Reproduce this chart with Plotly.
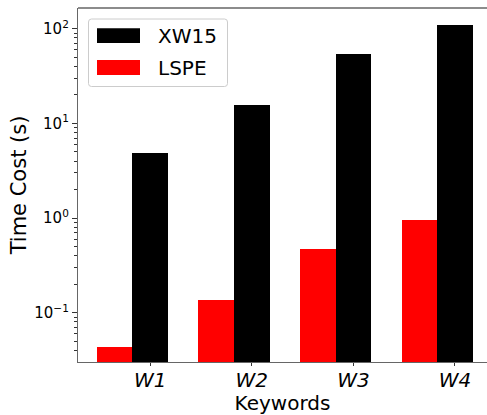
import plotly.graph_objects as go

# Keyword sets and measured runtimes (seconds)
keywords = ["W1", "W2", "W3", "W4"]
xw15_time = [4.9, 15.5, 54.0, 109.0]
lspe_time = [0.0437, 0.136, 0.467, 0.946]
series_names = ["XW15", "LSPE"]
series_colors = ["black", "red"]

y_tick_exps = [-1, 0, 1, 2]
y_tick_text = ["10<sup>\u22121</sup>", "10<sup>0</sup>", "10<sup>1</sup>", "10<sup>2</sup>"]

FONT = "DejaVu Sans"
bar_w = 0.35
idx = list(range(len(keywords)))

fig = go.Figure()
# LSPE bars sit to the left of each tick group, XW15 bars to the right
fig.add_trace(go.Bar(x=idx, y=lspe_time, width=bar_w, offset=-bar_w,
                     marker=dict(color=series_colors[1], line=dict(width=0)),
                     name=series_names[1], showlegend=False))
fig.add_trace(go.Bar(x=idx, y=xw15_time, width=bar_w, offset=0,
                     marker=dict(color=series_colors[0], line=dict(width=0)),
                     name=series_names[0], showlegend=False))

W, H = 487, 415
ml, mr, mt, mb = 78, 0, 8, 53
pw, ph = W - ml - mr, H - mt - mb


def px_x(x):
    return (x - ml) / pw


def px_y(y):
    return (H - mb - y) / ph


spine = "#666666"
shapes = [
    # top spine (right side of the frame falls outside the canvas)
    dict(type="line", xref="paper", yref="paper", x0=0, x1=1, y0=1, y1=1,
         line=dict(color=spine, width=1.3)),
]

# legend box with rounded corners
lx0, lx1, ly0, ly1, r = 88.5, 227.5, 19, 86.5, 3
path = (f"M{px_x(lx0 + r)},{px_y(ly0)} L{px_x(lx1 - r)},{px_y(ly0)} "
        f"Q{px_x(lx1)},{px_y(ly0)} {px_x(lx1)},{px_y(ly0 + r)} "
        f"L{px_x(lx1)},{px_y(ly1 - r)} Q{px_x(lx1)},{px_y(ly1)} {px_x(lx1 - r)},{px_y(ly1)} "
        f"L{px_x(lx0 + r)},{px_y(ly1)} Q{px_x(lx0)},{px_y(ly1)} {px_x(lx0)},{px_y(ly1 - r)} "
        f"L{px_x(lx0)},{px_y(ly0 + r)} Q{px_x(lx0)},{px_y(ly0)} {px_x(lx0 + r)},{px_y(ly0)} Z")
shapes.append(dict(type="path", xref="paper", yref="paper", path=path,
                   fillcolor="rgba(255,255,255,0.8)", line=dict(color="#cccccc", width=1)))

annotations = []
legend_rows = [(series_names[0], series_colors[0], 28.3, 43.0),
               (series_names[1], series_colors[1], 60.0, 75.0)]
for name, color, y0, y1 in legend_rows:
    shapes.append(dict(type="rect", xref="paper", yref="paper",
                       x0=px_x(97), x1=px_x(140), y0=px_y(y1), y1=px_y(y0),
                       fillcolor=color, line=dict(width=0)))
    annotations.append(dict(xref="paper", yref="paper", x=px_x(156), y=px_y((y0 + y1) / 2 + 0.5),
                            xanchor="left", yanchor="middle", text=name, showarrow=False,
                            font=dict(family=FONT, size=20, color="black")))

fig.update_layout(
    width=W, height=H,
    margin=dict(l=ml, r=mr, t=mt, b=mb, pad=0),
    paper_bgcolor="white", plot_bgcolor="white",
    font=dict(family=FONT, color="black"),
    shapes=shapes, annotations=annotations,
    bargap=0,
)

fig.update_xaxes(
    range=[-bar_w - 0.185, 3.49],
    tickvals=[i + bar_w / 2 for i in idx],
    ticktext=[f"<i>{k}</i>" for k in keywords],
    tickfont=dict(family=FONT, size=20, color="black"),
    ticks="outside", ticklen=3, tickwidth=1, tickcolor="#333333",
    ticklabelstandoff=-3,
    showline=True, linecolor=spine, linewidth=1.3,
    showgrid=False, zeroline=False,
    title=dict(text="Keywords", font=dict(family=FONT, size=20, color="black"), standoff=0),
)

fig.update_yaxes(
    type="log",
    range=[-1.521, 2.219],
    tickvals=[10 ** e for e in y_tick_exps],
    ticktext=y_tick_text,
    tickfont=dict(family=FONT, size=15, color="black"),
    ticks="outside", ticklen=5, tickwidth=1, tickcolor="#333333",
    minor=dict(ticks="outside", ticklen=3, tickwidth=0.8, tickcolor="#333333",
               dtick="D1", showgrid=False),
    showline=True, linecolor=spine, linewidth=1.3,
    showgrid=False, zeroline=False,
    title=dict(text="Time Cost (s)", font=dict(family=FONT, size=21, color="black"), standoff=1),
)

fig.write_html("out.html")
